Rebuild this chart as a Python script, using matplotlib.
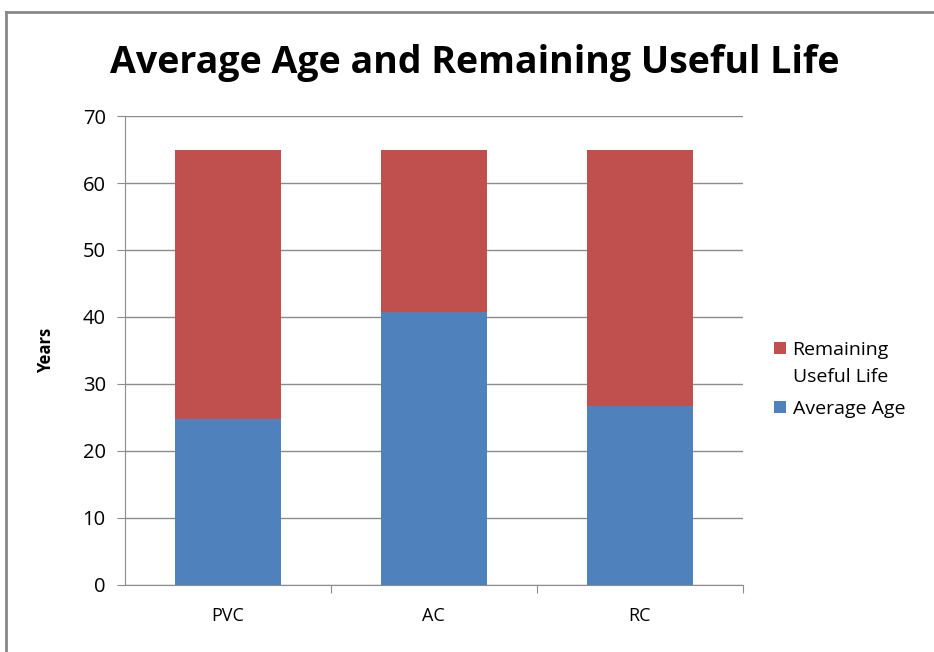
import matplotlib.pyplot as plt
from matplotlib.lines import Line2D

categories = ["PVC", "AC", "RC"]
average_age = [24.7, 40.8, 26.7]
remaining_life = [40.3, 24.2, 38.3]
y_ticks = [0, 10, 20, 30, 40, 50, 60, 70]

blue = "#4F81BD"
red = "#C0504D"
font = "Open Sans"

fig = plt.figure(figsize=(9.34, 6.52), dpi=100)
ax = fig.add_axes([0.134, 0.103, 0.661, 0.719])

x = list(range(len(categories)))
ax.bar(x, average_age, width=0.515, color=blue, label="Average Age", zorder=3)
ax.bar(x, remaining_life, width=0.515, bottom=average_age, color=red,
       label="Remaining", zorder=3)

ax.set_xlim(-0.5, 2.5)
ax.set_ylim(0, 70)
ax.set_yticks(y_ticks)
ax.yaxis.grid(True, color="#8c8c8c", linewidth=1.0, zorder=0)

# category labels centred, tick marks between categories
ax.set_xticks([0.5, 1.5, 2.5])
ax.set_xticklabels([])
ax.set_xticks(x, minor=True)
ax.set_xticklabels(categories, minor=True, fontfamily=font, fontsize=13)
ax.tick_params(axis="x", which="minor", length=0, pad=16)
ax.tick_params(axis="x", which="major", length=6, color="#8c8c8c")
ax.tick_params(axis="y", length=6, color="#8c8c8c", pad=8)
for lbl in ax.get_yticklabels():
    lbl.set_fontfamily(font)
    lbl.set_fontsize(14.5)

for side in ["top", "right"]:
    ax.spines[side].set_visible(False)
for side in ["left", "bottom"]:
    ax.spines[side].set_color("#8c8c8c")

ax.set_ylabel("Years", fontfamily=font, fontweight="bold", fontsize=12, labelpad=20)

fig.text(0.508, 0.903, "Average Age and Remaining Useful Life", ha="center", va="center",
         fontfamily=font, fontweight="bold", fontsize=27)

# legend: marker sits next to the first line of the wrapped label
handles, labels = ax.get_legend_handles_labels()
leg = fig.legend(handles[::-1], labels[::-1], loc="center left",
                 bbox_to_anchor=(0.81, 0.418), frameon=False,
                 prop={"family": font, "size": 14},
                 handlelength=0.6, handleheight=0.6, handletextpad=0.35,
                 labelspacing=2.1)
fig.canvas.draw()
inv = fig.transFigure.inverted()
top_bb = leg.get_texts()[0].get_window_extent()
bot_bb = leg.get_texts()[1].get_window_extent()
x0, y_top = inv.transform((top_bb.x0, (top_bb.y0 + top_bb.y1) / 2))
_, y_bot = inv.transform((bot_bb.x0, (bot_bb.y0 + bot_bb.y1) / 2))
fig.text(x0, y_top - 0.46 * (y_top - y_bot), "Useful Life", ha="left", va="center",
         fontfamily=font, fontsize=14)

# outer chart frame
fig.add_artist(Line2D([0.006, 0.006], [0.0, 0.982], color="#888888", linewidth=2))
fig.add_artist(Line2D([0.006, 1.0], [0.982, 0.982], color="#888888", linewidth=2))

fig.savefig("out.png", dpi=100)
